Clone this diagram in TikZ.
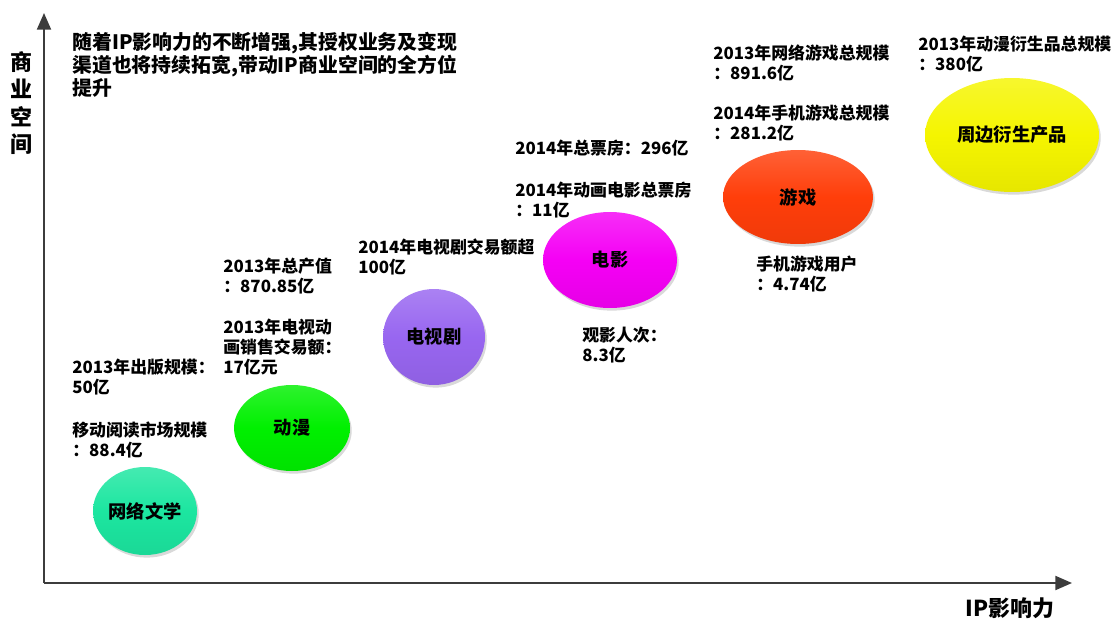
\documentclass[tikz,border=0pt]{standalone}
\usepackage{fontspec}
\newfontfamily\cjk{Noto Sans CJK SC}
\usetikzlibrary{arrows.meta,shadows,shapes.geometric}
\definecolor{cwx}{RGB}{28,230,160}
\definecolor{cdm}{RGB}{0,240,0}
\definecolor{ctv}{RGB}{152,102,240}
\definecolor{cfilm}{RGB}{245,0,245}
\definecolor{cgame}{RGB}{255,62,10}
\definecolor{cyel}{RGB}{245,245,0}
\definecolor{axc}{RGB}{60,60,60}
\tikzset{
  lbl/.style={font=\cjk\bfseries\fontsize{9.6}{11.6}\selectfont, align=left, anchor=west, inner sep=0pt},
  blob/.style={ellipse, draw=none, inner sep=0pt, font=\cjk\bfseries\fontsize{10.4}{12}\selectfont,
     top color=#1!82!white, bottom color=#1!94!black, middle color=#1,
     drop shadow={opacity=0.3, shadow xshift=1pt, shadow yshift=-1.5pt}},
  axis/.style={draw=axc, line width=1.1pt, -{Triangle[length=9.5pt,width=8pt]}},
  axlbl/.style={font=\cjk\bfseries\fontsize{12.5}{15.7}\selectfont, align=center, inner sep=0pt}
}
\begin{document}
\begin{tikzpicture}[x=0.02cm,y=-0.02cm]
\useasboundingbox (0,0) rectangle (1113,623);
% axes
\coordinate (O) at (44,583);
\coordinate (Y) at (44,13);
\coordinate (X) at (1072,583);
\draw[axis] (O) -- (Y);
\draw[axis] (O) -- (X);
\node[axlbl] (ylab) at (21,103) {商\\业\\空\\间};
\node[axlbl] (xlab) at (1010,608) {IP影响力};
% main text
\node[font=\cjk\bfseries\fontsize{11.3}{13}\selectfont, align=left, anchor=west, inner sep=0pt] (intro) at (72,65)
  {随着IP影响力的不断增强,其授权业务及变现\\渠道也将持续拓宽,带动IP商业空间的全方位\\提升};
% ellipses
\node[blob=cwx, minimum width=2.08cm, minimum height=1.76cm] (wx) at (145,511) {网络文学};
\node[blob=cdm, minimum width=2.32cm, minimum height=1.72cm] (dm) at (292,428) {动漫};
\node[blob=ctv, minimum width=2.04cm, minimum height=1.92cm] (tv) at (434,337) {电视剧};
\node[blob=cfilm, minimum width=2.68cm, minimum height=1.92cm] (film) at (610,260) {电影};
\node[blob=cgame, minimum width=3.0cm, minimum height=1.88cm] (game) at (798,197) {游戏};
\node[blob=cyel, minimum width=3.48cm, minimum height=2.28cm] (yel) at (1012,135) {周边衍生产品};
% labels
\node[lbl] (l1) at (72,440) {移动阅读市场规模\\：88.4亿};
\node[lbl] (l2) at (72,377) {2013年出版规模：\\50亿};
\node[lbl] (l3) at (223,347) {2013年电视动\\画销售交易额：\\17亿元};
\node[lbl] (l4) at (223,276) {2013年总产值\\：870.85亿};
\node[lbl] (l5) at (358,257) {2014年电视剧交易额超\\100亿};
\node[lbl] (l6) at (515,148) {2014年总票房：296亿};
\node[lbl] (l7) at (515,200) {2014年动画电影总票房\\：11亿};
\node[lbl] (l8) at (582,345) {观影人次：\\8.3亿};
\node[lbl] (l9) at (756,274) {手机游戏用户\\：4.74亿};
\node[lbl] (l10) at (713,63) {2013年网络游戏总规模\\：891.6亿};
\node[lbl] (l11) at (713,123) {2014年手机游戏总规模\\：281.2亿};
\node[lbl] (l12) at (918,54) {2013年动漫衍生品总规模\\：380亿};
\end{tikzpicture}
\end{document}
